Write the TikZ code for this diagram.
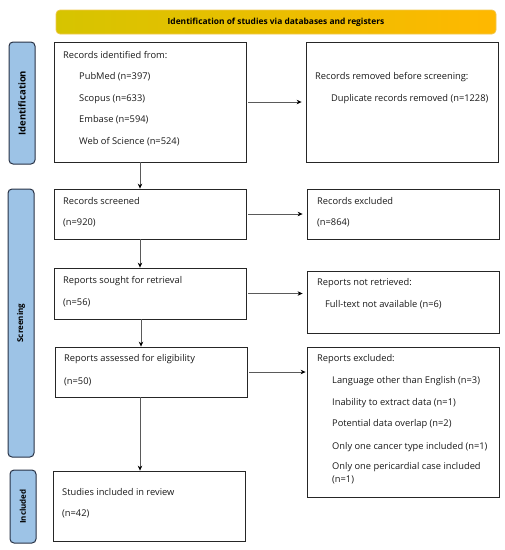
\documentclass[tikz,border=0pt]{standalone}
\usepackage{fontspec}
\setmainfont{Open Sans}
\usetikzlibrary{arrows.meta}
\definecolor{sidefill}{RGB}{157,195,230}
\definecolor{sideline}{RGB}{40,50,70}
\definecolor{hdrA}{RGB}{214,196,0}
\definecolor{hdrB}{RGB}{255,184,0}
\definecolor{hdrline}{RGB}{240,200,80}
\definecolor{arrowgray}{RGB}{90,90,90}
\tikzset{
  box/.style={draw=black!85, line width=0.8pt, fill=white, inner sep=0pt},
  side/.style={draw=sideline, line width=1pt, fill=sidefill, rounded corners=4pt, inner sep=0pt},
  sidetxt/.style={font=\fontsize{8}{9}\selectfont\bfseries, rotate=90, inner sep=0pt},
  txt/.style={font=\fontsize{9.3}{10}\selectfont, anchor=west, inner sep=0pt, text=black!90},
  flow/.style={draw=arrowgray, line width=0.7pt, -{Stealth[length=5pt,width=4.5pt,color=black]}},
}
\begin{document}
\begin{tikzpicture}[x=1pt,y=-1pt]
\useasboundingbox (0,0) rectangle (505,550);
% header
\node[draw=hdrline, line width=0.7pt, rounded corners=4pt, left color=hdrA, right color=hdrB,
      minimum width=440pt, minimum height=24pt, inner sep=0pt] (hdr) at (276,22)
      {\fontsize{8.4}{9}\selectfont\bfseries Identification of studies via databases and registers};
% side bars
\node[side, minimum width=26pt, minimum height=122pt] (sideI) at (22,103) {};
\node[sidetxt, font=\fontsize{9.5}{10}\selectfont\bfseries] (sideIt) at (sideI.center) {Identification};
\node[side, minimum width=26pt, minimum height=268pt] (sideS) at (21,323) {};
\node[sidetxt] (sideSt) at (sideS.center) {Screening};
\node[side, minimum width=26pt, minimum height=73pt] (sideN) at (23,506.5) {};
\node[sidetxt] (sideNt) at (sideN.center) {Included};
% boxes
\node[box, minimum width=192pt, minimum height=120pt] (ident) at (150,102) {};
\node[box, minimum width=192pt, minimum height=120pt] (removed) at (402,102) {};
\node[box, minimum width=192pt, minimum height=50pt] (screened) at (150,214) {};
\node[box, minimum width=192pt, minimum height=50pt] (excl) at (403,214) {};
\node[box, minimum width=192pt, minimum height=51pt] (sought) at (150,293.5) {};
\node[box, minimum width=192pt, minimum height=62pt] (notret) at (403,302) {};
\node[box, minimum width=192pt, minimum height=50pt] (assessed) at (151,372) {};
\node[box, minimum width=192pt, minimum height=150pt] (repexcl) at (403,422) {};
\node[box, minimum width=192pt, minimum height=70pt] (incl) at (149,506) {};
% texts
\node[txt] (t1) at (63,55) {Records identified from:};
\node[txt] (t2) at (79,77) {PubMed (n=397)};
\node[txt] (t3) at (79,99) {Scopus (n=633)};
\node[txt] (t4) at (79,120) {Embase (n=594)};
\node[txt] (t5) at (79,142) {Web of Science (n=524)};
\node[txt] (t6) at (315,77) {Records removed before screening:};
\node[txt] (t7) at (331,99) {Duplicate records removed (n=1228)};
\node[txt] (t8) at (63,201) {Records screened};
\node[txt] (t9) at (63,223) {(n=920)};
\node[txt] (t10) at (317,201) {Records excluded};
\node[txt] (t11) at (317,223) {(n=864)};
\node[txt] (t12) at (63,281) {Reports sought for retrieval};
\node[txt] (t13) at (63,303) {(n=56)};
\node[txt] (t14) at (317,283) {Reports not retrieved:};
\node[txt] (t15) at (325,305) {Full-text not available (n=6)};
\node[txt] (t16) at (64,359) {Reports assessed for eligibility};
\node[txt] (t17) at (64,382) {(n=50)};
\node[txt] (t18) at (317,359) {Reports excluded:};
\node[txt] (t19) at (332,381) {Language other than English (n=3)};
\node[txt] (t20) at (332,403) {Inability to extract data (n=1)};
\node[txt] (t21) at (332,424) {Potential data overlap (n=2)};
\node[txt] (t22) at (332,447) {Only one cancer type included (n=1)};
\node[txt] (t23) at (332,467) {Only one pericardial case included};
\node[txt] (t24) at (332,480) {(n=1)};
\node[txt] (t25) at (62,492) {Studies included in review};
\node[txt] (t26) at (62,514) {(n=42)};
% arrows
\draw[flow] ([xshift=2pt]ident.east) -- ([xshift=-4pt]removed.west);
\draw[flow] ([xshift=2pt]screened.east) -- ([xshift=-4pt]excl.west |- screened.east);
\draw[flow] ([xshift=2pt]sought.east) -- ([xshift=-4pt]notret.west |- sought.east);
\draw[flow] ([xshift=2pt]assessed.east) -- ([xshift=-1pt]repexcl.west |- assessed.east);
\draw[flow] (ident.south -| 140,0) -- (screened.north -| 140,0);
\draw[flow] (screened.south -| 140,0) -- (sought.north -| 140,0);
\draw[flow] (sought.south -| 141,0) -- (assessed.north -| 141,0);
\draw[flow] (assessed.south -| 140,0) -- (incl.north -| 140,0);
\end{tikzpicture}
\end{document}
